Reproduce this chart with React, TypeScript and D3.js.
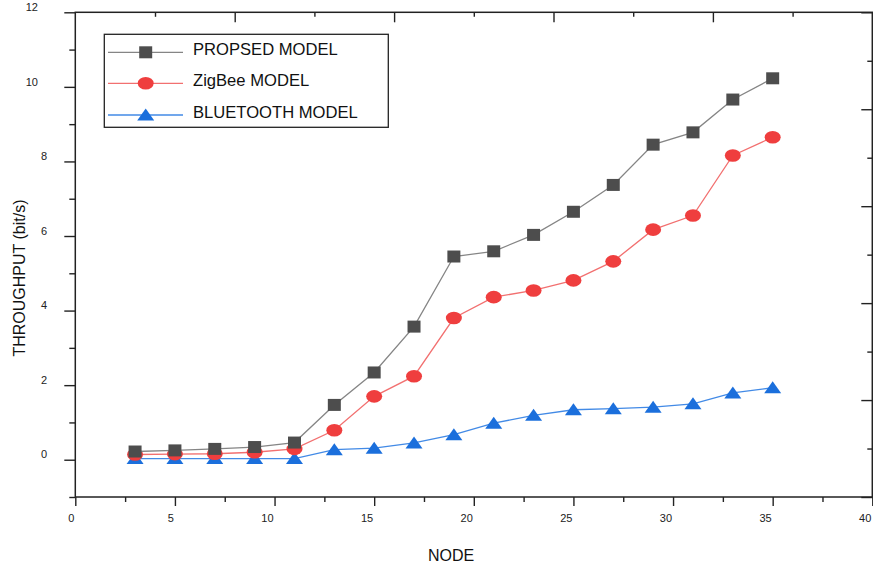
import React, { useRef, useEffect } from 'react';
import * as d3 from 'd3';

// Data
const nodes = [3, 5, 7, 9, 11, 13, 15, 17, 19, 21, 23, 25, 27, 29, 31, 33, 35];
const proposed = [0.22, 0.25, 0.29, 0.34, 0.46, 1.47, 2.34, 3.57, 5.45, 5.59, 6.03, 6.65, 7.37, 8.45, 8.78, 9.66, 10.23];
const zigbee = [0.14, 0.15, 0.16, 0.2, 0.29, 0.79, 1.7, 2.24, 3.8, 4.36, 4.54, 4.81, 5.32, 6.17, 6.55, 8.16, 8.65];
const bluetooth = [0.03, 0.03, 0.03, 0.03, 0.03, 0.27, 0.31, 0.45, 0.67, 0.98, 1.19, 1.34, 1.37, 1.41, 1.5, 1.79, 1.93];

const seriesNames = ['PROPSED MODEL', 'ZigBee MODEL', 'BLUETOOTH MODEL'];

const xMajorTicks = [0, 5, 10, 15, 20, 25, 30, 35, 40];
const xMinorTicks = [2.5, 7.5, 12.5, 17.5, 22.5, 27.5, 32.5, 37.5];
const yMajorTicks = [0, 2, 4, 6, 8, 10, 12];
const yMinorTicks = [-1, 1, 3, 5, 7, 9, 11];
const topMajorTicks = [8, 16, 24, 32];
const topMinorTicks = [4, 12, 20, 28, 36];
const rightMajorTicks = [0, 2, 4, 6, 8, 10];
const rightMinorTicks = [1, 3, 5, 7, 9];

const FONT = "Arial, 'Liberation Sans', sans-serif";
const AXIS_COLOR = '#222';

function App() {
  const svgRef = useRef<SVGSVGElement>(null);

  useEffect(() => {
    const svg = d3.select(svgRef.current);
    svg.selectAll('*').remove();

    const left = 75.3, right = 872.3, top = 12.3, bottom = 497;

    const x = d3.scaleLinear().domain([0, 40]).range([left, right]);
    const y = d3.scaleLinear().domain([-1, 12]).range([bottom, top]);
    // right-hand axis in the original has its own unlabeled scale
    const yRight = d3.scaleLinear().domain([0, 10]).range([bottom, top]);

    const styleAxis = (g: any) => {
      g.select('.domain').remove();
      g.selectAll('line').attr('stroke', AXIS_COLOR).attr('stroke-width', 1.4);
    };

    // Bottom axis
    svg.append('g')
      .attr('transform', `translate(0,${bottom})`)
      .call(d3.axisBottom(x).tickValues(xMinorTicks).tickSize(5).tickFormat(() => ''))
      .call(styleAxis);
    const xAx = svg.append('g')
      .attr('transform', `translate(0,${bottom})`)
      .call(d3.axisBottom(x).tickValues(xMajorTicks).tickSize(9).tickFormat(d => String(d)))
      .call(styleAxis);
    xAx.selectAll('text')
      .attr('text-anchor', 'end')
      .attr('x', -1.5)
      .attr('y', 25)
      .attr('dy', 0)
      .attr('fill', AXIS_COLOR)
      .style('font-family', FONT)
      .style('font-size', '11px');

    // Left axis
    svg.append('g')
      .attr('transform', `translate(${left},0)`)
      .call(d3.axisLeft(y).tickValues(yMinorTicks).tickSize(6).tickFormat(() => ''))
      .call(styleAxis);
    const yAx = svg.append('g')
      .attr('transform', `translate(${left},0)`)
      .call(d3.axisLeft(y).tickValues(yMajorTicks).tickSize(11).tickFormat(d => String(d)))
      .call(styleAxis);
    yAx.selectAll('text')
      .attr('text-anchor', 'end')
      .attr('x', (d: any) => 56 - 9 * String(d).length - left)
      .attr('y', -5.7)
      .attr('dy', '0.35em')
      .attr('fill', AXIS_COLOR)
      .style('font-family', FONT)
      .style('font-size', '11px');

    // Top axis, ticks pointing inward
    svg.append('g')
      .attr('transform', `translate(0,${top})`)
      .call(d3.axisTop(x).tickValues(topMinorTicks).tickSize(-4.5).tickFormat(() => ''))
      .call(styleAxis);
    svg.append('g')
      .attr('transform', `translate(0,${top})`)
      .call(d3.axisTop(x).tickValues(topMajorTicks).tickSize(-10).tickFormat(() => ''))
      .call(styleAxis);

    // Right axis, ticks pointing inward
    svg.append('g')
      .attr('transform', `translate(${right},0)`)
      .call(d3.axisRight(yRight).tickValues(rightMinorTicks).tickSize(-5).tickFormat(() => ''))
      .call(styleAxis);
    svg.append('g')
      .attr('transform', `translate(${right},0)`)
      .call(d3.axisRight(yRight).tickValues(rightMajorTicks).tickSize(-11).tickFormat(() => ''))
      .call(styleAxis);

    // Frame
    svg.append('rect')
      .attr('x', left)
      .attr('y', top)
      .attr('width', right - left)
      .attr('height', bottom - top)
      .attr('fill', 'none')
      .attr('stroke', AXIS_COLOR)
      .attr('stroke-width', 1.5);

    // Axis titles
    svg.append('text')
      .attr('x', 451)
      .attr('y', 561)
      .attr('text-anchor', 'middle')
      .attr('fill', '#111')
      .style('font-family', FONT)
      .style('font-size', '16px')
      .text('NODE');

    svg.append('text')
      .attr('transform', `translate(25,278) rotate(-90)`)
      .attr('text-anchor', 'middle')
      .attr('fill', '#111')
      .style('font-family', FONT)
      .style('font-size', '16px')
      .text('THROUGHPUT (bit/s)');

    // Marker shapes
    const squarePath = 'M-6.5,-6V6H6.5V-6Z';
    const trianglePath = 'M0,-6.5L8.5,5.5H-8.5Z';

    const series = [
      { values: proposed, line: '#858585', fill: '#4d4d4d', kind: 'square' },
      { values: zigbee, line: '#f27070', fill: '#ef3e3e', kind: 'circle' },
      { values: bluetooth, line: '#428ae6', fill: '#1b6fdc', kind: 'triangle' },
    ];

    const drawMarker = (g: any, kind: string, fill: string) => {
      if (kind === 'circle') {
        g.append('ellipse').attr('rx', 8).attr('ry', 6.3).attr('fill', fill);
      } else {
        g.append('path').attr('d', kind === 'square' ? squarePath : trianglePath).attr('fill', fill);
      }
    };

    const line = d3.line<number>()
      .x((_, i) => x(nodes[i]))
      .y(d => y(d));

    // draw bluetooth first so that upper series sit above it
    [...series].reverse().forEach(s => {
      svg.append('path')
        .datum(s.values)
        .attr('fill', 'none')
        .attr('stroke', s.line)
        .attr('stroke-width', 1.3)
        .attr('d', line);
      s.values.forEach((v, i) => {
        const g = svg.append('g').attr('transform', `translate(${x(nodes[i])},${y(v)})`);
        drawMarker(g, s.kind, s.fill);
      });
    });

    // Legend
    const legend = svg.append('g');
    legend.append('rect')
      .attr('x', 104.3)
      .attr('y', 34.3)
      .attr('width', 284)
      .attr('height', 93)
      .attr('fill', 'white')
      .attr('stroke', AXIS_COLOR)
      .attr('stroke-width', 1.3);

    const rowY = [52.3, 83.3, 115];
    series.forEach((s, i) => {
      legend.append('line')
        .attr('x1', 108)
        .attr('x2', 183)
        .attr('y1', rowY[i])
        .attr('y2', rowY[i])
        .attr('stroke', s.line)
        .attr('stroke-width', 1.3);
      const g = legend.append('g').attr('transform', `translate(145.7,${rowY[i]})`);
      drawMarker(g, s.kind, s.fill);
      legend.append('text')
        .attr('x', 193)
        .attr('y', rowY[i] + 3)
        .attr('fill', '#111')
        .style('font-family', FONT)
        .style('font-size', '16.6px')
        .text(seriesNames[i]);
    });
  }, []);

  return (
    <svg
      ref={svgRef}
      width={873}
      height={572}
      style={{ position: 'absolute', left: 0, top: 0, background: 'white' }}
    />
  );
}

export default App;
